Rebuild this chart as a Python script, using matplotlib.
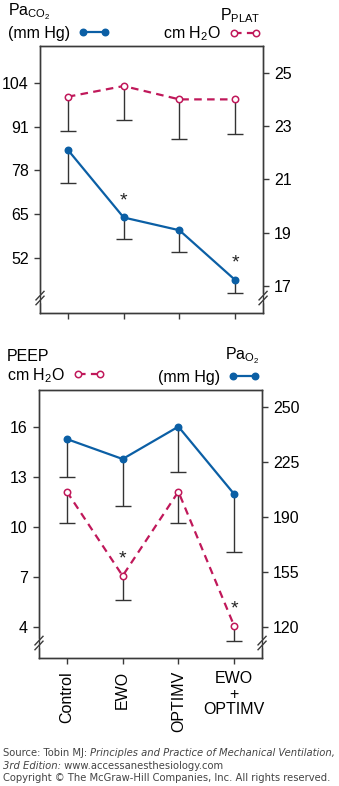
import numpy as np
import matplotlib.pyplot as plt
from matplotlib.text import Annotation

plt.rcParams['font.family'] = ['Liberation Sans', 'DejaVu Sans']
plt.rcParams['mathtext.fontset'] = 'custom'
plt.rcParams['mathtext.rm'] = 'Liberation Sans'
plt.rcParams['mathtext.it'] = 'Liberation Sans'
plt.rcParams['mathtext.default'] = 'regular'

# data (mean and lower SD bar)
groups = ['Control', 'EWO', 'OPTIMV', 'EWO\n+\nOPTIMV']
paco2 = [84.1, 64.0, 60.2, 45.4]
paco2_sd = [9.9, 6.3, 6.5, 3.9]
pplat = [24.1, 24.5, 24.0, 24.0]
pplat_sd = [1.27, 1.27, 1.48, 1.29]
peep = [12.1, 7.05, 12.1, 4.05]
peep_sd = [1.9, 1.45, 1.9, 0.9]
pao2 = [239.8, 227.1, 247.7, 204.8]
pao2_sd = [24.0, 30.1, 29.1, 37.1]
signif = [False, True, False, True]

paco2_ticks = [52, 65, 78, 91, 104]
pplat_ticks = [17, 19, 21, 23, 25]
peep_ticks = [4, 7, 10, 13, 16]
pao2_ticks = [120, 155, 190, 225, 260]
pao2_ticklabels = ['120', '155', '190', '225', '250']

BLUE = '#0b5fa5'
RED = '#c0185a'
ERR = '#333333'
SPINE = '#3a3a3a'
FS = 11.5
DASH = (0, (3.4, 2.4))


def draw_series(ax, x, y, sd, color, dashed):
    eb = ax.errorbar(x, y, yerr=[sd, np.zeros(len(sd))], fmt='none', ecolor=ERR,
                     elinewidth=1.0, capsize=6, capthick=1.0, zorder=2)
    eb.lines[1][1].set_visible(False)  # only the lower bar is drawn
    line, = ax.plot(x, y, color=color, lw=1.6, ls=DASH if dashed else '-',
                    marker='o', ms=4.6, mfc='white' if dashed else color,
                    mec=color, mew=1.1, zorder=3)
    return line


def style(ax, axr):
    for a in (ax, axr):
        for s in a.spines.values():
            s.set_color(SPINE)
            s.set_linewidth(1.0)
        a.tick_params(direction='out', length=4.5, width=1.0, color=SPINE,
                      labelsize=FS, pad=3.5)
    ax.set_xlim(-0.5, 3.5)
    ax.set_xticks(x)


def breaks(ax):
    for xa in (0, 1):
        ax.plot([xa, xa], [0.046, 0.066], color='white', lw=2.5,
                transform=ax.transAxes, clip_on=False, zorder=5)
        for yc in (0.047, 0.065):
            ax.plot([xa - 0.018, xa + 0.018], [yc - 0.016, yc + 0.016],
                    color=SPINE, lw=1.0, transform=ax.transAxes,
                    clip_on=False, zorder=6)


def stars(ax, xs, ys):
    for xi, yi, s in zip(xs, ys, signif):
        if s:
            ax.annotate('*', (xi, yi), xytext=(0, 12), textcoords='offset points',
                        ha='center', va='center', fontsize=14, color='#222222')


def key(ax, line, label, title, side, y0, spacing):
    left = side == 'left'
    ax.legend([line], [label], title=title,
              loc='lower left' if left else 'lower right',
              bbox_to_anchor=(-0.143 if left else 0.99, y0),
              frameon=False, markerfirst=False, numpoints=2,
              handlelength=2.0, handletextpad=0.5, borderpad=0,
              borderaxespad=0, fontsize=FS, title_fontsize=FS,
              alignment=side, labelspacing=spacing)


x = np.arange(len(groups))

fig = plt.figure(figsize=(3.39, 7.86), dpi=100)

# top panel: PaCO2 (left) and Pplat (right)
ax1 = fig.add_axes([0.118, 0.6018, 0.658, 0.3397])
ax1r = ax1.twinx()
style(ax1, ax1r)
l_paco2 = draw_series(ax1, x, paco2, paco2_sd, BLUE, False)
l_pplat = draw_series(ax1r, x, pplat, pplat_sd, RED, True)
stars(ax1, x, paco2)
ax1.set_ylim(35.6, 115)
ax1.set_yticks(paco2_ticks)
ax1r.set_ylim(16, 26)
ax1r.set_yticks(pplat_ticks)
ax1.tick_params(axis='x', labelbottom=False)
breaks(ax1)
key(ax1, l_paco2, '(mm Hg)', r'Pa$_{CO_2}$', 'left', 1.02, 0.2)
key(ax1r, l_pplat, r'cm H$_2$O', r'P$_{PLAT}$', 'right', 1.01, 0.0)

# bottom panel: PEEP (left) and PaO2 (right)
ax2 = fig.add_axes([0.115, 0.1628, 0.658, 0.341])
ax2r = ax2.twinx()
style(ax2, ax2r)
l_peep = draw_series(ax2, x, peep, peep_sd, RED, True)
l_pao2 = draw_series(ax2r, x, pao2, pao2_sd, BLUE, False)
stars(ax2, x, peep)
ax2.set_ylim(2.12, 18.2)
ax2.set_yticks(peep_ticks)
ax2r.set_ylim(100.5, 271)
ax2r.set_yticks(pao2_ticks, pao2_ticklabels)
breaks(ax2)
ax2.set_xticks(x, groups)
ax2.tick_params(axis='x', pad=5)
for i, lab in enumerate(ax2.get_xticklabels()):
    lab.set_verticalalignment('top')
    lab.set_horizontalalignment('center')
    if i < 3:
        lab.set_rotation(90)
    else:
        lab.set_multialignment('center')
        lab.set_linespacing(1.05)
key(ax2, l_peep, r'cm H$_2$O', 'PEEP', 'left', 1.02, 0.15)
key(ax2r, l_pao2, '(mm Hg)', r'Pa$_{O_2}$', 'right', 1.02, 0.2)

# source lines
src = dict(fontsize=7.2, color='#444444', family='DejaVu Sans', va='bottom')
lines = [
    [('Source: Tobin MJ: ', 'normal'),
     ('Principles and Practice of Mechanical Ventilation,', 'italic')],
    [('3rd Edition:', 'italic'), (' www.accessanesthesiology.com', 'normal')],
    [('Copyright \u00a9 The McGraw-Hill Companies, Inc. All rights reserved.', 'normal')],
]
for yy, parts in zip([0.0359, 0.0194, 0.0035], lines):
    t = fig.text(0.009, yy, parts[0][0], style=parts[0][1], **src)
    for s, st in parts[1:]:
        t = fig.add_artist(Annotation(s, xy=(1, 0), xycoords=t, style=st, **src))

fig.savefig('out.png', dpi=100)
